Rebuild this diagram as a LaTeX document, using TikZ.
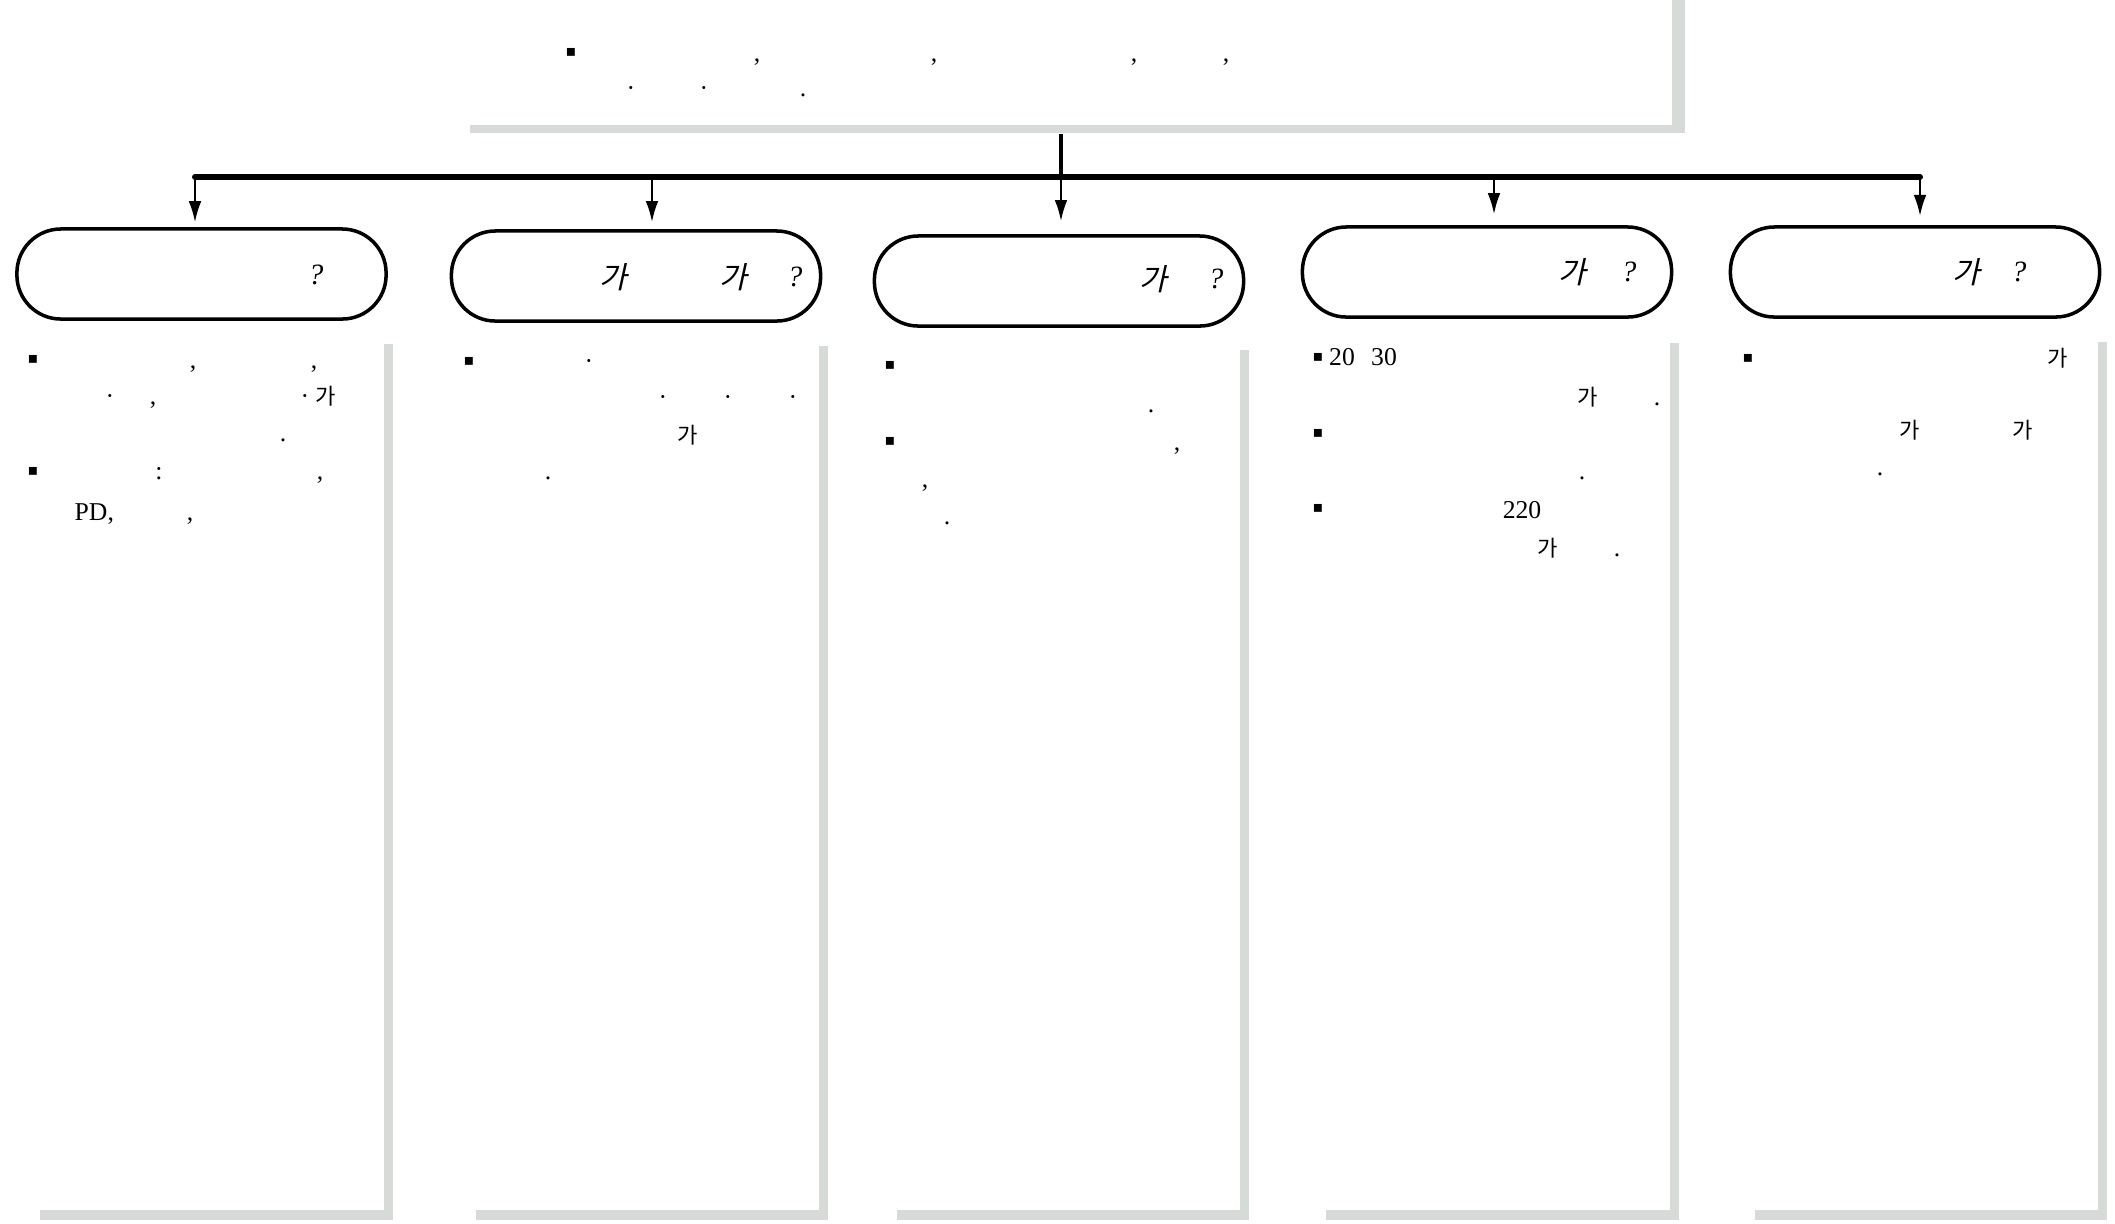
\documentclass[tikz,border=0pt]{standalone}
\usepackage{fontspec}
\setmainfont{Liberation Serif}
\newfontfamily\kr{Noto Sans CJK KR}
\newfontfamily\krit{Noto Sans CJK KR}[FakeSlant=0.22]
\newfontfamily\sym{DejaVu Sans}
\usetikzlibrary{arrows.meta,shadows}
\definecolor{shadowgray}{RGB}{215,219,216}
\tikzset{
  panel/.style={fill=white,inner sep=0pt,anchor=north west,drop shadow={shadow xshift=0.09cm,shadow yshift=-0.10cm,fill=shadowgray,opacity=1}},
  intropanel/.style={fill=white,inner sep=0pt,anchor=south east,drop shadow={shadow xshift=0.13cm,shadow yshift=-0.08cm,fill=shadowgray,opacity=1}},
  qbox/.style={draw,line width=1pt,rounded corners=12.5pt,minimum width=3.69cm,minimum height=0.9cm,inner sep=0pt},
  qtxt/.style={inner sep=0pt,font=\itshape\fontsize{8.4}{9}\selectfont},
  qkr/.style={inner sep=0pt,font=\krit\fontsize{8.6}{9}\selectfont},
  bd/.style={anchor=base,inner sep=0pt,font=\fontsize{7.3}{8}\selectfont},
  bdkr/.style={bd,font=\kr\fontsize{6.3}{7}\selectfont},
  bul/.style={inner sep=0pt,font=\sym\fontsize{4.5}{5}\selectfont},
  bar/.style={line width=1.7pt,line cap=round},
  stem/.style={line width=1.3pt},
  arr/.style={-{Latex[length=6pt,width=3.6pt]},line width=0.65pt},
}

\begin{document}
\begin{tikzpicture}[x=0.01cm,y=-0.01cm]
  \useasboundingbox (0,0) rectangle (2115,1223);

  % panels with grey shadow
  \node[intropanel,minimum width=12.15cm,minimum height=1.4cm] (intro) at (1673,126) {};
  \node[panel,minimum width=3.53cm,minimum height=8.76cm] (col1) at (30,333) {};
  \node[panel,minimum width=3.52cm,minimum height=8.74cm] (col2) at (466,335) {};
  \node[panel,minimum width=3.52cm,minimum height=8.70cm] (col3) at (887,339) {};
  \node[panel,minimum width=3.53cm,minimum height=8.77cm] (col4) at (1316,332) {};
  \node[panel,minimum width=3.52cm,minimum height=8.78cm] (col5) at (1745,331) {};

  % question boxes
  \node[qbox] (q1) at (201.5,274) {};
  \node[qbox] (q2) at (636,276) {};
  \node[qbox] (q3) at (1059,281) {};
  \node[qbox] (q4) at (1487,272) {};
  \node[qbox] (q5) at (1915,272) {};

  \node[qtxt] (q1m) at (316,275) {?};
  \node[qkr] (q2a) at (613,277) {가};
  \node[qkr] (q2b) at (733,277) {가};
  \node[qtxt] (q2m) at (795,277) {?};
  \node[qkr] (q3a) at (1153,279) {가};
  \node[qtxt] (q3m) at (1216,279) {?};
  \node[qkr] (q4a) at (1572,272) {가};
  \node[qtxt] (q4m) at (1629,272) {?};
  \node[qkr] (q5a) at (1966,272) {가};
  \node[qtxt] (q5m) at (2019,272) {?};

  % tree connectors
  \coordinate (s0) at (1061,134);
  \coordinate (b1) at (195,177);
  \coordinate (b2) at (652,177);
  \coordinate (b3) at (1061,177);
  \coordinate (b4) at (1494,177);
  \coordinate (b5) at (1920,177);
  \draw[stem] (s0) -- (b3);
  \draw[bar] (b1) -- (b5);
  \foreach \i/\g in {1/1.4,2/2,3/3.7,4/3.1,5/2.6}
    \draw[arr,shorten >=\g pt] (b\i) -- (b\i |- q\i.north);

  % intro text
  \node[bul] (i0) at (571,52) {▪};
  \foreach \x/\y/\t [count=\i] in {757/61/{,},934/61/{,},1134/61/{,},1226/61/{,},631/96/·,704/96/·,803/96/.}
    \node[bd] (i\i) at (\x,\y) {\t};

  % column 1
  \foreach \y [count=\i] in {359,471}
    \node[bul] (c1b\i) at (33,\y) {▪};
  \foreach \x/\y/\t [count=\i] in {193/368/{,},314/368/{,},110/404/·,153/404/{,},305/404/·,283/441/.,159/479/:,320/479/{,},190/520/{,}}
    \node[bd] (c1t\i) at (\x,\y) {\t};
  \node[bdkr] (c1k) at (326,404) {가};
  \node[bd,anchor=base west] (c1pd) at (74,520) {PD,};

  % column 2
  \node[bul] (c2b1) at (469,361) {▪};
  \foreach \x/\y/\t [count=\i] in {589/369/·,663/405/·,728/405/·,793/405/·,548/479/.}
    \node[bd] (c2t\i) at (\x,\y) {\t};
  \node[bdkr] (c2k) at (688,443) {가};

  % column 3
  \foreach \y [count=\i] in {365,441}
    \node[bul] (c3b\i) at (890,\y) {▪};
  \foreach \x/\y/\t [count=\i] in {1151/412/.,1177/450/{,},925/487/{,},947/524/.}
    \node[bd] (c3t\i) at (\x,\y) {\t};

  % column 4
  \foreach \y [count=\i] in {357,433,508}
    \node[bul] (c4b\i) at (1318,\y) {▪};
  \foreach \x/\y/\t [count=\i] in {1342/365/20,1384/365/30,1657/405/.,1582/479/.,1522/518/220,1617/556/.}
    \node[bd] (c4t\i) at (\x,\y) {\t};
  \foreach \x/\y [count=\i] in {1588/405,1548/556}
    \node[bdkr] (c4k\i) at (\x,\y) {가};

  % column 5
  \node[bul] (c5b1) at (1748,358) {▪};
  \node[bd] (c5t1) at (1880,475) {.};
  \foreach \x/\y [count=\i] in {2058/366,1910/438,2023/438}
    \node[bdkr] (c5k\i) at (\x,\y) {가};
\end{tikzpicture}
\end{document}
